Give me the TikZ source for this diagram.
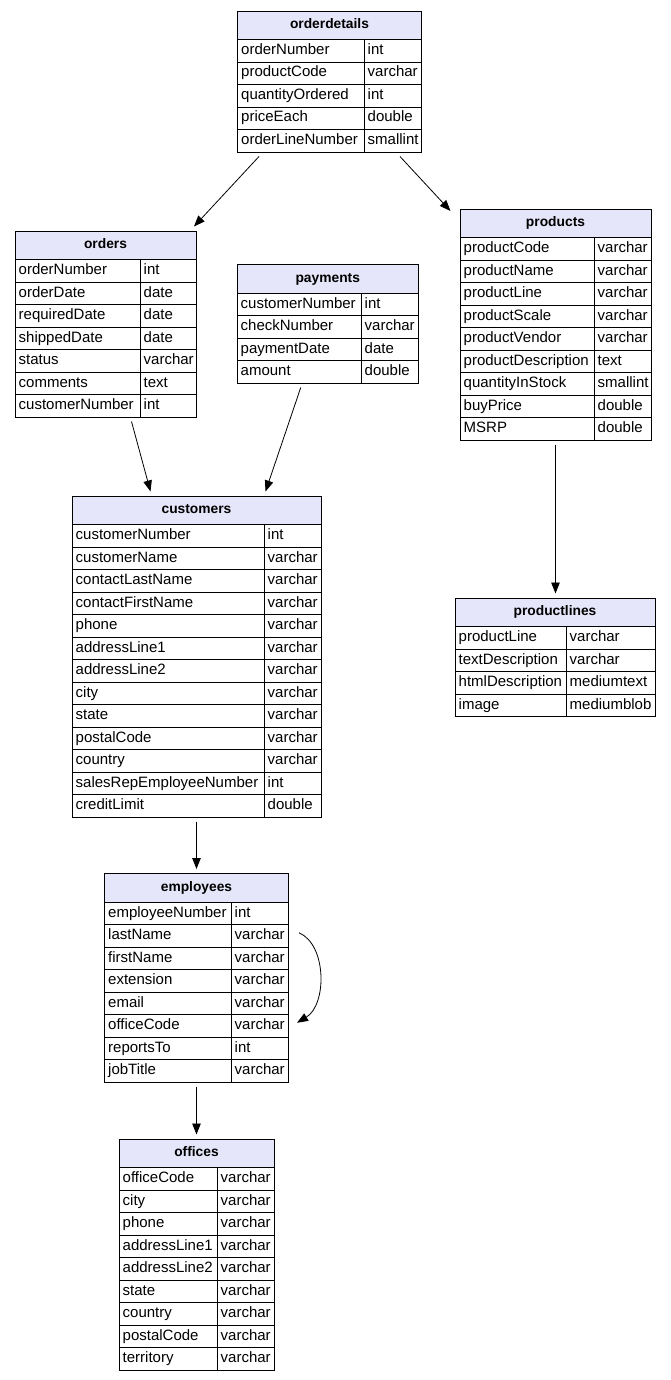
\documentclass[tikz,border=0pt]{standalone}
\usepackage{fontspec}
\setmainfont{Liberation Sans}
\usepackage{xcolor}
\usepackage{tikz}
\usetikzlibrary{arrows.meta}

\definecolor{lav}{RGB}{230,230,250}

% one table: name, left, top, divider, right, number of rows, fields
\newcommand{\dbtable}[7]{%
  \pgfmathsetmacro{\tblh}{28.5+#6*22.5}
  \node[tbl, minimum width={#5-#2}, minimum height=\tblh] (#1) at ({(#2+#5)/2},{#3+\tblh/2}) {};
  \draw[tblhead] (#2,#3) rectangle (#5,#3+28.5);
  \node[tbltitle] at ({(#2+#5)/2},#3+14.25) {#1};
  \foreach \fname/\ftype [count=\i] in {#7} {
    \pgfmathsetmacro{\rowtop}{#3+28.5+(\i-1)*22.5}
    \draw[tblcell] (#2,\rowtop) rectangle (#4,\rowtop+22.5) (#4,\rowtop) rectangle (#5,\rowtop+22.5);
    \node[tblfield] at (#2,\rowtop+11.25) {\fname};
    \node[tblfield] at (#4,\rowtop+11.25) {\ftype};
  }
}

\begin{document}
\begin{tikzpicture}[x=1pt,y=-1pt]
	\tikzstyle{tbl} = [rectangle, inner sep=0pt, outer sep=4.5pt]
	\tikzstyle{tblhead} = [draw=black, fill=lav, line width=0.8pt]
	\tikzstyle{tblcell} = [draw=black, line width=0.8pt]
	\tikzstyle{tbltitle} = [inner sep=0pt, font=\fontsize{13.8}{16}\selectfont\bfseries, text height=10pt, text depth=3pt]
	\tikzstyle{tblfield} = [anchor=west, inner sep=0pt, xshift=3.5pt, font=\fontsize{15}{18}\selectfont, text height=10.5pt, text depth=3pt]
	\tikzset{edge/.style = {-{Triangle[length=11pt,width=8.5pt]}, line width=0.8pt}}

	\useasboundingbox (0,0) rectangle (670,1380);

	\dbtable{orderdetails}{237.5}{11}{364}{421.5}{5}{orderNumber/int, productCode/varchar, quantityOrdered/int, priceEach/double, orderLineNumber/smallint}
	\dbtable{orders}{15}{231}{140}{196}{7}{orderNumber/int, orderDate/date, requiredDate/date, shippedDate/date, status/varchar, comments/text, customerNumber/int}
	\dbtable{payments}{237}{264.5}{361}{418.5}{4}{customerNumber/int, checkNumber/varchar, paymentDate/date, amount/double}
	\dbtable{products}{460}{209}{594}{651}{9}{productCode/varchar, productName/varchar, productLine/varchar, productScale/varchar, productVendor/varchar, productDescription/text, quantityInStock/smallint, buyPrice/double, MSRP/double}
	\dbtable{customers}{72}{496}{264}{321}{13}{customerNumber/int, customerName/varchar, contactLastName/varchar, contactFirstName/varchar, phone/varchar, addressLine1/varchar, addressLine2/varchar, city/varchar, state/varchar, postalCode/varchar, country/varchar, salesRepEmployeeNumber/int, creditLimit/double}
	\dbtable{productlines}{455}{598}{566}{655}{4}{productLine/varchar, textDescription/varchar, htmlDescription/mediumtext, image/mediumblob}
	\dbtable{employees}{104.5}{873.5}{231}{288.5}{8}{employeeNumber/int, lastName/varchar, firstName/varchar, extension/varchar, email/varchar, officeCode/varchar, reportsTo/int, jobTitle/varchar}
	\dbtable{offices}{119}{1139}{217}{274}{9}{officeCode/varchar, city/varchar, phone/varchar, addressLine1/varchar, addressLine2/varchar, state/varchar, country/varchar, postalCode/varchar, territory/varchar}

	\draw[edge]([xshift=-70.5pt]orderdetails.south) to ([xshift=-6.5pt]orders.north east);
	\draw[edge]([xshift=70.5pt]orderdetails.south) to ([xshift=-5pt,yshift=-6.5pt]products.north west);
	\draw[edge]([xshift=26pt]orders.south) to ([xshift=-46pt]customers.north);
	\draw[edge]([xshift=-27pt]payments.south) to ([xshift=69pt]customers.north);
	\draw[edge](products.south) to (products.south |- productlines.north);
	\draw[edge](customers.south) to (employees.north);
	\draw[edge]([xshift=6pt,yshift=45pt]employees.east) .. controls +(28,12) and +(30,-18) .. ([xshift=4pt,yshift=-45pt]employees.east);
	\draw[edge](employees.south) to (offices.north);

\end{tikzpicture}
\end{document}
